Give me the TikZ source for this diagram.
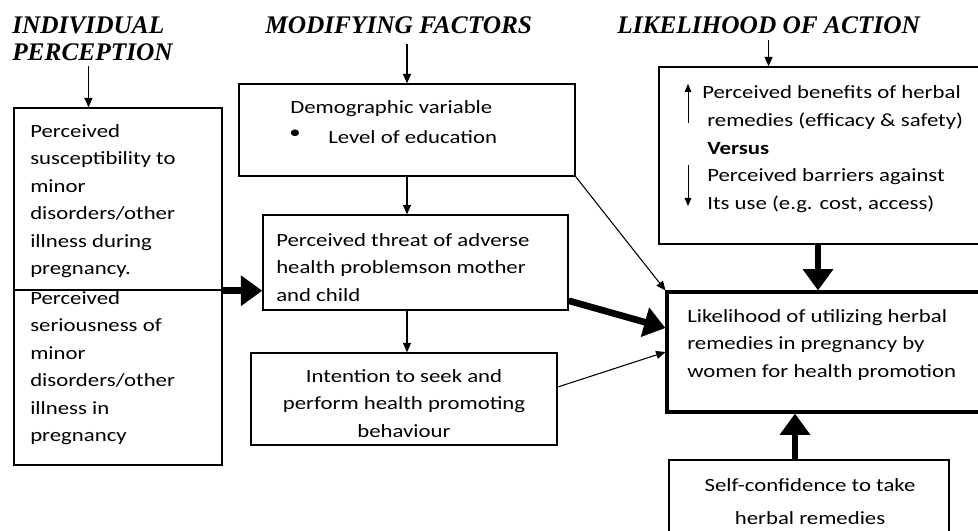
\documentclass[tikz,border=0pt]{standalone}
\usepackage{fontspec}
\setmainfont{Carlito}[FakeStretch=1.22]
\newfontfamily\headfont{Liberation Serif}
\usetikzlibrary{arrows.meta,fit}

\begin{document}
\begin{tikzpicture}[x=0.75pt,y=-0.75pt,
  box/.style={draw=black, line width=1.1pt, inner sep=0pt},
  txt/.style={font=\fontsize{14}{20.6}\selectfont, inner sep=0pt, align=left, anchor=north west},
  ctxt/.style={font=\fontsize{14}{20.6}\selectfont, inner sep=0pt, align=center, anchor=north},
  head/.style={font=\headfont\bfseries\itshape\fontsize{19}{20.5}\selectfont, inner sep=0pt, anchor=west, align=left},
  thin/.style={line width=0.8pt, -{Triangle[length=7pt,width=6pt]}},
  tiny/.style={line width=0.6pt, -{Triangle[length=6pt,width=5pt]}},
  thick/.style={line width=5pt, -{Triangle[length=16pt,width=22pt]}}]
\useasboundingbox (0,0) rectangle (978,531);
\clip (0,0) rectangle (978,531);

% headings
\node [head] (hindiv) at (12,25) {INDIVIDUAL};
\node [head] (hperc) at (12,52) {PERCEPTION};
\node [head] (hmod) at (265,25) {MODIFYING FACTORS};
\node [head] (hlike) at (617,25) {LIKELIHOOD OF ACTION};

% boxes
\node [box, fit={(14,108) (222,290)}] (susc) {};
\node [box, fit={(14,290) (222,465)}] (serious) {};
\node [box, fit={(239,84) (575,176)}] (demo) {};
\node [box, fit={(263,215) (568,310)}] (threat) {};
\node [box, fit={(251,353) (557,445)}] (intent) {};
\node [box, fit={(659,67) (1000,244)}] (benefit) {};
\node [box, line width=2.3pt, fit={(667,292) (1000,412)}] (like) {};
\node [box, fit={(669,460) (949,560)}] (selfconf) {};

% texts
\node [txt] (tsusc) at (30,124) {Perceived\\susceptibility to\\minor\\disorders/other\\illness during\\pregnancy.};
\node [txt] (tserious) at (30,291) {Perceived\\seriousness of\\minor\\disorders/other\\illness in\\pregnancy};
\node [txt] (tdemo) at (290,100) {Demographic variable};
\node [txt] (tbullet) at (289,130) {\textbullet};
\node [txt] (tlevel) at (328,130) {Level of education};
\node [txt] (tthreat) at (276,233) {Perceived threat of adverse\\health problemson mother\\and child};
\node [ctxt] (tintent) at (404,369) {Intention to seek and\\perform health promoting\\behaviour};
\node [txt] (tben) at (702,85) {Perceived benefits of herbal};
\node [txt] (trem) at (707,113) {remedies (efficacy \& safety)\\\textbf{Versus}\\Perceived barriers against\\Its use (e.g. cost, access)};
\node [txt] (tlike) at (687,309) {Likelihood of utilizing herbal\\remedies in pregnancy by\\women for health promotion};
\node [ctxt] (tself) at (810,478) {Self-confidence to take\\[4pt]herbal remedies};

% small arrows in benefits box
\coordinate (upa) at (688,123);
\coordinate (upb) at (688,84);
\coordinate (dna) at (688,165);
\coordinate (dnb) at (688,206);
\draw [tiny] (upa) -- (upb);
\draw [tiny] (dna) -- (dnb);

% connectors
\coordinate (downx) at (818,0);
\coordinate (upx) at (795,0);
\draw [thin] ([xshift=-3pt,yshift=-4pt]hperc.south) -- ([xshift=-3pt]hperc.south |- susc.north);
\draw [thin] (demo.north |- hmod.south) ++(0,10) -- (demo.north);
\draw [thin] (hlike.south) ++(0,6) -- (hlike.south |- benefit.north);
\draw [thin] (demo.south) -- (demo.south |- threat.north);
\draw [thin] (demo.south |- threat.south) -- (demo.south |- intent.north);
\draw [thick] (susc.south east) -- (susc.south east -| threat.west);
\draw [thin] (demo.south east) -- (like.north west);
\draw [thick] ([yshift=7.5pt]threat.south east) -- ([yshift=18pt]like.west);
\draw [thin] ([yshift=9pt]intent.east) -- (like.west);
\draw [thick] (benefit.south -| downx) -- (like.north -| downx);
\draw [thick] (selfconf.north -| upx) -- (like.south -| upx);
\end{tikzpicture}
\end{document}
